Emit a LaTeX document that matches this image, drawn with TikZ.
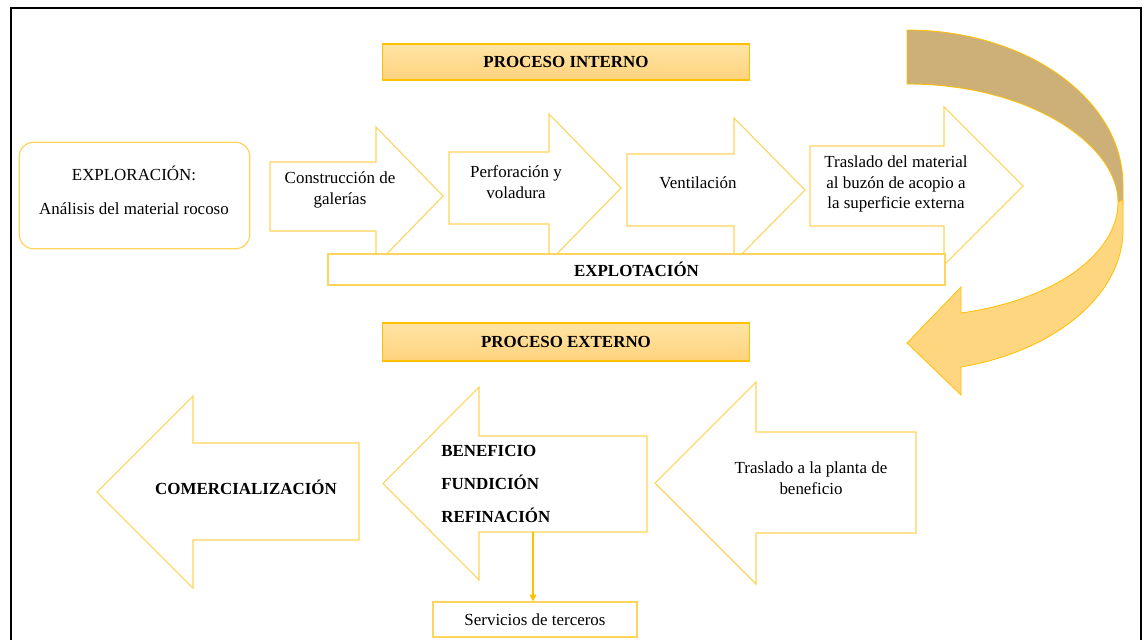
\documentclass[tikz,border=0pt]{standalone}
\usepackage{fontspec}
\setmainfont{Liberation Serif}
\usetikzlibrary{arrows.meta}
\definecolor{oro}{RGB}{255,192,0}
\definecolor{borde}{RGB}{255,212,90}
\definecolor{claro}{RGB}{255,214,128}
\definecolor{oscuro}{RGB}{205,176,120}
\definecolor{tope}{RGB}{255,228,165}
\definecolor{fondo}{RGB}{255,211,125}
\tikzstyle{bloque}=[draw=borde, line width=0.8pt, fill=white]
\tikzstyle{titulo}=[rectangle, draw=oro, line width=0.9pt, top color=tope, bottom color=fondo, minimum width=275pt, font=\fontsize{12.7}{15}\selectfont\bfseries]
\tikzstyle{caja}=[rectangle, draw=borde, line width=0.9pt, fill=white]
\tikzstyle{texto}=[align=center, font=\fontsize{12.7}{15.5}\selectfont]
\tikzstyle{negrita}=[font=\fontsize{12.7}{15.5}\selectfont\bfseries]
\tikzstyle{cinta}=[draw=oro, line width=0.6pt]
\newcommand{\flecha}[7]{\draw[bloque] (#1,#4) -- (#2,#4) -- (#2,#6) -- (#3,{(#6+#7)/2}) -- (#2,#7) -- (#2,#5) -- (#1,#5) -- cycle;}

\begin{document}
\begin{tikzpicture}[x=0.75pt, y=-0.75pt]
  \useasboundingbox (0,0) rectangle (1144,639);
  \draw[line width=1.5pt] (11,650) -- (11,8) -- (1141,8) -- (1141,650);
  \draw[cinta, fill=oscuro] (907,30) .. controls (1026,30) and (1123,99) .. (1123,185) -- (1123,205) -- (1118,202) .. controls (1118,145) and (1030,84) .. (907,84) -- cycle;
  \draw[cinta, fill=claro] (1118,202) -- (1123,200) -- (1123,230) .. controls (1123,294) and (1056,351) .. (961,367) -- (961,395) -- (907,343) -- (961,287) -- (961,313) .. controls (1054,300) and (1118,254) .. (1118,202) -- cycle;
  \flecha{270}{376}{443}{162}{231}{127}{265}
  \flecha{449}{549}{621}{152}{224}{114}{262}
  \flecha{627}{734}{805}{154}{226}{118}{262}
  \flecha{810}{944}{1023}{146}{226}{107}{265}
  \flecha{359}{193}{97}{443}{540}{396}{588}
  \flecha{647}{479}{383}{436}{532}{387}{580}
  \flecha{916}{756}{655}{432}{533}{382}{584}
  \node[titulo, minimum height=27pt] (interno) at (566,62) {PROCESO INTERNO};
  \node[titulo, minimum height=28.5pt] (externo) at (566,342) {PROCESO EXTERNO};
  \node[caja, rounded corners=11pt, minimum width=173pt, minimum height=80pt] (exploracion) at (134.5,195.5) {};
  \node[texto, font=\fontsize{12.7}{25.5}\selectfont] (analisis) at (134,190) {EXPLORACIÓN:\\Análisis del material rocoso};
  \node[texto] (galerias) at (340,190) {Construcción de\\galerías};
  \node[texto] (perforacion) at (516,182) {Perforación y\\voladura};
  \node[texto] (ventilacion) at (698,183) {Ventilación};
  \node[texto] (traslado) at (896,184) {Traslado del material\\al buzón de acopio a\\la superficie externa};
  \node[caja, negrita, minimum width=462.75pt, minimum height=23.25pt] (explotacion) at (636.5,269.5) {EXPLOTACIÓN};
  \node[negrita] (comercial) at (246,487) {COMERCIALIZACIÓN};
  \node[align=left, anchor=west, inner sep=0pt, font=\fontsize{12.7}{24.75}\selectfont\bfseries] (beneficio) at (441,484) {BENEFICIO\\FUNDICIÓN\\REFINACIÓN};
  \node[texto] (planta) at (811,478) {Traslado a la planta de\\beneficio};
  \node[caja, texto, minimum width=153pt, minimum height=26.25pt] (servicios) at (535,619.5) {Servicios de terceros};
  \coordinate (salida) at (533,532);
  \draw[draw=oro, line width=0.8pt, -{Triangle[length=5pt,width=5pt]}] (salida) -- (salida |- servicios.north);
\end{tikzpicture}
\end{document}
